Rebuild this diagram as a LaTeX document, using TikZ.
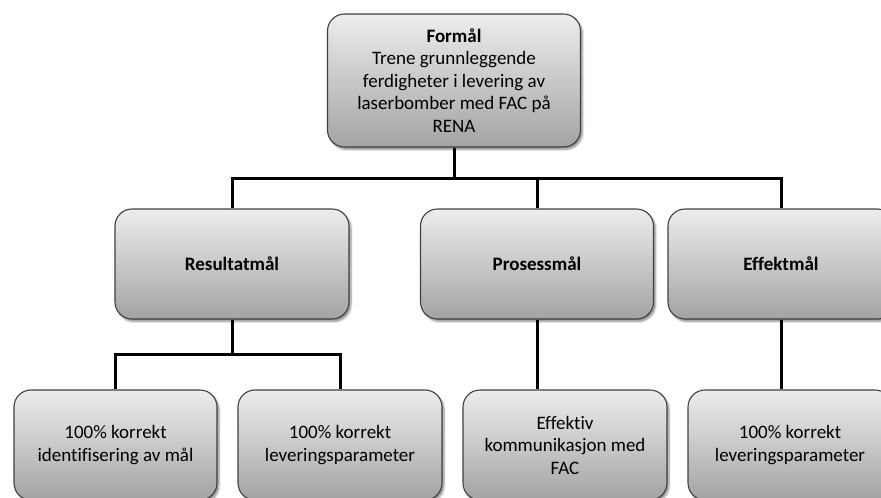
\documentclass[tikz,border=0pt]{standalone}
\usepackage{fontspec}
\setmainfont[Ligatures=CommonOff]{Carlito}
\usetikzlibrary{shadows.blur}
\begin{document}
\begin{tikzpicture}[x=1pt,y=-1pt,
  box/.style={draw=black!75, line width=1.1pt, rounded corners=17pt,
    top color=black!7, bottom color=black!36,
    blur shadow={shadow xshift=2pt, shadow yshift=-2.5pt, shadow blur steps=6, shadow opacity=45},
    align=center, font=\fontsize{19}{22.5}\selectfont, inner sep=0pt},
  conn/.style={line width=3pt, black, line join=miter}]
\useasboundingbox (0,0) rectangle (881,498);
\clip (0,0) rectangle (881,498);
\node[box, minimum width=253pt, minimum height=133pt] (top) at (454,80.5)
  {\textbf{Formål}\\Trene grunnleggende\\ferdigheter i levering av\\laserbomber med FAC på\\RENA};
\node[box, minimum width=234pt, minimum height=110pt] (res) at (232,264) {\textbf{Resultatmål}};
\node[box, minimum width=233pt, minimum height=110pt] (pro) at (537,264) {\textbf{Prosessmål}};
\node[box, minimum width=226pt, minimum height=110pt] (eff) at (781,264) {\textbf{Effektmål}};
\node[box, minimum width=203pt, minimum height=110pt] (b1) at (115.5,445) {100\% korrekt\\identifisering av mål};
\node[box, minimum width=204pt, minimum height=110pt] (b2) at (340,445) {100\% korrekt\\leveringsparameter};
\node[box, minimum width=204pt, minimum height=110pt] (b3) at (565,445) {Effektiv\\kommunikasjon med\\FAC};
\node[box, minimum width=204pt, minimum height=110pt] (b4) at (790,445) {100\% korrekt\\leveringsparameter};
\coordinate (j1) at (454,178);
\coordinate (j2) at (232,354);
\draw[conn] (top.south) -- (top.south |- j1);
\draw[conn] (res.north) -- (res.north |- j1) -- (eff.north |- j1) -- (eff.north);
\draw[conn] (pro.north) -- (pro.north |- j1);
\draw[conn] (res.south) -- (j2);
\draw[conn] (b1.north) -- (b1.north |- j2) -- (b2.north |- j2) -- (b2.north);
\draw[conn] (pro.south) -- (pro.south |- b3.north);
\draw[conn] (eff.south) -- (eff.south |- b4.north);
\end{tikzpicture}
\end{document}
